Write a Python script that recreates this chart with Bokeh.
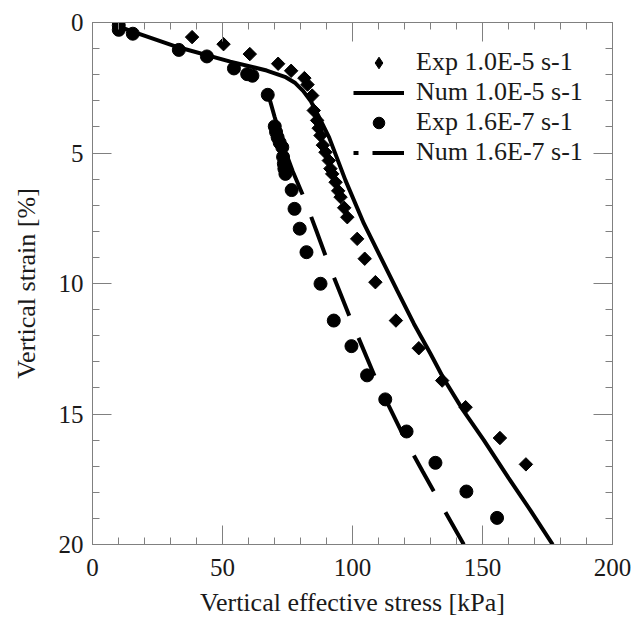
import math

from bokeh.plotting import figure
from bokeh.models import Range1d, FixedTicker, LinearAxis, Legend, LegendItem
from bokeh.embed import file_html
from bokeh.resources import INLINE

# Experimental data, strain rate 1.0E-5 s-1
exp_fast_stress = [10.1, 38.3, 50.4, 60.5, 71.4, 76.4, 81.5, 82.7, 84.5, 85.1, 86.4, 87.0,
                   87.7, 88.6, 89.6, 90.9, 91.5, 92.2, 93.5, 94.5, 95.4, 96.8, 98.0, 101.8,
                   104.7, 108.8, 116.7, 125.5, 134.5, 143.5, 156.7, 166.7]
exp_fast_strain = [0.0, 0.56, 0.83, 1.21, 1.58, 1.85, 2.13, 2.38, 2.8, 3.37, 3.75, 4.05,
                   4.33, 4.7, 4.97, 5.29, 5.6, 5.8, 6.12, 6.45, 6.69, 7.1, 7.46, 8.29,
                   9.05, 9.95, 11.42, 12.48, 13.72, 14.74, 15.92, 16.93]

# Numerical result, strain rate 1.0E-5 s-1
num_fast_stress = [10.0, 16.0, 33.0, 53.0, 67.0, 74.0, 78.0, 81.0, 84.0, 87.0, 91.0, 97.3,
                   104.4, 110.8, 117.2, 123.6, 130.0, 135.1, 142.5, 150.5, 160.0, 168.5, 177.0]
num_fast_strain = [0.15, 0.37, 0.95, 1.5, 1.84, 2.08, 2.32, 2.62, 3.02, 3.6, 4.4, 6.05,
                   7.71, 8.99, 10.27, 11.54, 12.69, 13.65, 14.85, 16.0, 17.45, 18.7, 20.0]

# Experimental data, strain rate 1.6E-7 s-1
exp_slow_stress = [10.1, 10.1, 15.5, 33.2, 44.0, 54.4, 59.5, 61.5, 67.4, 70.1, 70.6, 71.2,
                   72.0, 73.0, 73.3, 73.6, 73.8, 74.2, 76.6, 77.7, 79.7, 82.3, 87.7, 92.8,
                   99.6, 105.6, 112.6, 120.8, 131.9, 143.8, 155.6]
exp_slow_strain = [0.11, 0.28, 0.43, 1.05, 1.3, 1.76, 1.98, 2.04, 2.77, 3.98, 4.2, 4.4,
                   4.6, 4.78, 5.15, 5.41, 5.6, 5.8, 6.42, 7.14, 7.9, 8.8, 10.01, 11.42,
                   12.4, 13.52, 14.44, 15.67, 16.87, 17.97, 18.98]

# Numerical result, strain rate 1.6E-7 s-1
num_slow_stress = [67.6, 70.0, 73.6, 77.0, 81.5, 86.0, 90.3, 95.0, 99.5, 104.5, 109.5,
                   115.0, 120.8, 127.0, 133.8, 142.8]
num_slow_strain = [2.75, 3.6, 4.78, 5.7, 6.75, 7.95, 9.12, 10.3, 11.42, 12.6, 13.78,
                   14.9, 16.08, 17.2, 18.42, 20.0]

x_ticks = [0, 50, 100, 150, 200]
x_minor = list(range(0, 201, 10))
y_ticks = [0, 5, 10, 15, 20]
y_minor = list(range(0, 21))

labels = ["Exp 1.0E-5 s-1", "Num 1.0E-5 s-1", "Exp 1.6E-7 s-1", "Num 1.6E-7 s-1"]

FONT = "Liberation Serif"
TEXT = "#1a1a1a"
FRAME = "#808080"
INK = "black"

p = figure(width=633, height=619, output_backend="svg", toolbar_location=None,
           x_range=Range1d(0, 200), y_range=Range1d(20, 0),
           min_border_left=92, min_border_right=21, min_border_top=22,
           min_border_bottom=75)
# a range far below the data: renderers on it exist only as legend keys
p.extra_y_ranges = {"legend_keys": Range1d(100, 120)}
p.background_fill_color = "white"
p.border_fill_color = "white"
p.outline_line_color = FRAME
p.outline_line_width = 1
p.xgrid.visible = False
p.ygrid.visible = False


def style_axis(ax, ticks, minor, show_labels):
    ax.ticker = FixedTicker(ticks=ticks, minor_ticks=minor)
    ax.axis_line_color = FRAME
    ax.major_tick_line_color = FRAME
    ax.minor_tick_line_color = FRAME
    ax.major_tick_in = 19
    ax.major_tick_out = 0
    ax.minor_tick_in = 7
    ax.minor_tick_out = 0
    if show_labels:
        ax.major_label_text_font = FONT
        ax.major_label_text_font_size = "25px"
        ax.major_label_text_color = TEXT
        ax.axis_label_text_font = FONT
        ax.axis_label_text_font_size = "26px"
        ax.axis_label_text_font_style = "normal"
        ax.axis_label_text_color = TEXT
    else:
        ax.major_label_text_font_size = "0px"
        ax.major_label_standoff = 0


style_axis(p.xaxis[0], x_ticks, x_minor, True)
style_axis(p.yaxis[0], y_ticks, y_minor, True)
p.xaxis[0].axis_label = "Vertical effective stress [kPa]"
p.yaxis[0].axis_label = "Vertical strain [%]"
p.xaxis[0].major_label_standoff = 14
p.xaxis[0].axis_label_standoff = 9
p.yaxis[0].major_label_standoff = 9
p.yaxis[0].axis_label_standoff = 15

top_axis = LinearAxis()
style_axis(top_axis, x_ticks, x_minor, False)
p.add_layout(top_axis, "above")
right_axis = LinearAxis()
style_axis(right_axis, y_ticks, y_minor, False)
p.add_layout(right_axis, "right")

r_num_fast = p.line(num_fast_stress, num_fast_strain, line_color=INK, line_width=4)
r_num_slow = p.line(num_slow_stress, num_slow_strain, line_color=INK, line_width=4,
                    line_dash="41 24")
r_exp_fast = p.scatter(exp_fast_stress, exp_fast_strain, marker="square", size=9.5,
                       angle=math.pi / 4, fill_color=INK, line_color=INK)
r_exp_slow = p.scatter(exp_slow_stress, exp_slow_strain, marker="circle", size=13,
                       fill_color=INK, line_color=INK)

# legend keys: diamond symbol and dot-dash pattern, on the off-frame range
key_fast = p.scatter(exp_fast_stress, exp_fast_strain, marker="diamond",
                     fill_color=INK, line_color=INK, y_range_name="legend_keys")
key_slow = p.line(num_slow_stress, num_slow_strain, line_color=INK, line_width=4,
                  line_dash="5 14 40", y_range_name="legend_keys")

legend = Legend(items=[
    LegendItem(label=labels[0], renderers=[key_fast]),
    LegendItem(label=labels[1], renderers=[r_num_fast]),
    LegendItem(label=labels[2], renderers=[r_exp_slow]),
    LegendItem(label=labels[3], renderers=[key_slow]),
], location=(261, 377))
legend.border_line_color = None
legend.background_fill_alpha = 0
legend.padding = 0
legend.margin = 0
legend.spacing = 0
legend.glyph_width = 51
legend.glyph_height = 29
legend.label_height = 29
legend.label_standoff = 12
legend.label_text_font = FONT
legend.label_text_font_size = "26px"
legend.label_text_color = TEXT
p.add_layout(legend)

open("out.html", "w").write(file_html(p, INLINE))
